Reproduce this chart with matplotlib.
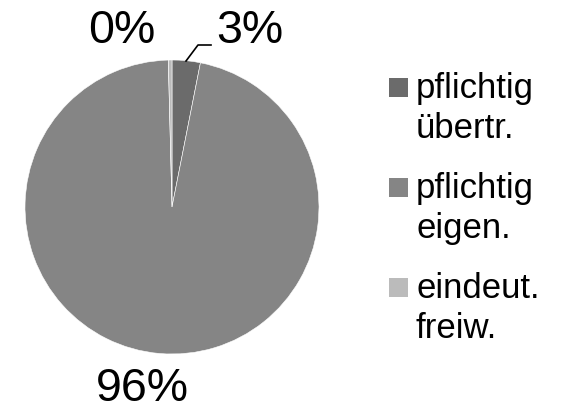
import matplotlib
matplotlib.use("Agg")
import matplotlib.pyplot as plt
from matplotlib.patches import Rectangle

categories = [("pflichtig", "übertr."), ("pflichtig", "eigen."), ("eindeut.", "freiw.")]
values = [3.1, 96.5, 0.4]
pct_labels = ["3%", "96%", "0%"]
colors = ["#6b6b6b", "#858585", "#bbbbbb"]

plt.rcParams['font.family'] = ['Liberation Sans', 'DejaVu Sans']

W, H = 566, 411
fig = plt.figure(figsize=(W / 100, H / 100), dpi=100)
ax = fig.add_axes([0, 0, 1, 1])
cx, cy, r = 172, 207, 147

ax.pie(values, colors=colors, startangle=90, counterclock=False, radius=1,
       wedgeprops=dict(edgecolor='white', linewidth=0.4))
ax.set_xlim(-cx / r, (W - cx) / r)
ax.set_ylim(-(H - cy) / r, cy / r)
ax.set_aspect('auto')
ax.axis('off')

def px(x, y):
    return ((x - cx) / r, (cy - y) / r)

# percentage labels
ax.text(*px(250, 31), pct_labels[0], fontsize=33.5, ha='center', va='center')
ax.text(*px(142, 389), pct_labels[1], fontsize=33.5, ha='center', va='center')
ax.text(*px(122, 31), pct_labels[2], fontsize=33.5, ha='center', va='center')
# leader line for 3%
lx, ly = zip(px(186, 61), px(198, 45), px(211, 45))
ax.plot(lx, ly, color='black', lw=1.2)

# legend
for i, ((l1, l2), c) in enumerate(zip(categories, colors)):
    y0 = 78 + 100 * i
    x0, y0d = px(389, y0 + 19)
    ax.add_patch(Rectangle((x0, y0d), 19 / r, 19 / r, facecolor=c, edgecolor='none'))
    ax.text(*px(416, y0 + 20), l1, fontsize=25, ha='left', va='baseline')
    ax.text(*px(416, y0 + 60), l2, fontsize=25, ha='left', va='baseline')

fig.savefig("out.png", dpi=100)
